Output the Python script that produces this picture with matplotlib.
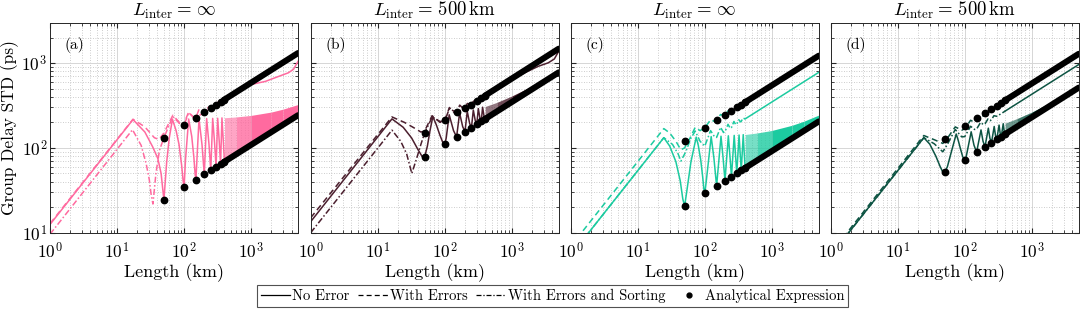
import matplotlib
matplotlib.use("Agg")
from matplotlib import pyplot as plt
from matplotlib.lines import Line2D
import numpy as np

plt.rcParams['font.family'] = 'serif'
plt.rcParams['font.serif'] = ['cmr10', 'DejaVu Serif']
plt.rcParams['mathtext.fontset'] = 'cm'
plt.rcParams['axes.formatter.use_mathtext'] = True
plt.rcParams['axes.unicode_minus'] = False

# analytical points (km) and the long tail where the dots merge into a thick line
dot_L = [50, 100, 150, 200, 250, 300, 350, 400]
tail_L = [400, 5000]
band_L = [400, 600, 1000, 2000, 3000, 5000]
band_alpha = [0.6, 0.8, 1.0, 1.0, 1.0]   # dense oscillations fill up more and more

# ---- (a) L_inter = inf
a_solid_L = [1, 17.3, 26, 34, 40.6, 45.4, 50, 55, 60, 67, 76, 84, 92, 97, 100, 105, 117, 130, 140, 146, 150,
             167, 185, 200, 217, 235, 250, 267, 285, 300, 317, 335, 350, 367, 385, 400]
a_solid_v = [12.5, 216, 154, 103, 75, 50, 24.3, 68, 130, 218, 160, 110, 62, 40, 34.4, 73, 219, 137, 77, 49, 42.1,
             221, 109, 48.6, 222, 111, 54.4, 223, 114, 59.6, 224, 116, 64.4, 226, 119, 68.8]
a_dash_L = [1, 17.3, 26, 36, 42, 50, 68, 85, 95, 117, 140, 150, 167, 190, 200, 217, 240, 250, 267, 290, 300,
            317, 340, 350, 367, 400, 5000]
a_dash_v = [12.8, 218, 177, 132, 126, 150, 243, 200, 178, 265, 225, 228, 285, 258, 263, 305, 290, 294, 325, 318,
            322, 345, 345, 348, 370, 372, 1315]
a_dd_L = [1, 17, 22.9, 27.2, 30.3, 32.1, 34.3, 38, 43, 50, 68, 85, 100, 117, 140, 150, 200, 300, 400,
          700, 1000, 1640, 2600, 3600, 4300, 5000]
a_dd_v = [9.6, 164, 107, 65, 42, 29, 21.8, 50, 94, 132, 235, 195, 186, 260, 230, 228, 263, 322, 372,
          490, 560, 610, 700, 770, 850, 1050]
a_dot_lo = [24.3, 34.4, 42.1, 48.6, 54.4, 59.6, 64.4, 68.8]
a_dot_hi = [131.5, 186, 228, 263, 294, 322, 348, 372]
a_tail_lo = [68.8, 243]
a_tail_hi = [372, 1315]
a_band_lo = [68.8, 84.3, 108.8, 153.8, 188.4, 243]
a_band_hi = [227, 232, 242, 265, 287, 325]

# ---- (b) L_inter = 500 km
b_solid_L = [1, 16.3, 24, 32, 40, 46, 50, 55, 60, 66.3, 75, 85, 95, 100, 105, 116.3, 135, 150, 166.3, 185, 200,
             216.3, 235, 250, 266.3, 285, 300, 316.3, 335, 350, 366.3, 385, 400]
b_solid_v = [13.5, 220, 175, 131, 95, 79, 78, 105, 158, 234, 186, 140, 112, 110, 131, 246, 160, 134.7, 258, 178,
             155.6, 270, 194, 174, 280, 209, 190.5, 291, 223, 205.8, 302, 236, 220]
b_dash_L = [1, 16.3, 25, 35, 44, 50, 64.6, 85, 100, 117, 140, 150, 167, 190, 200, 217, 240, 250, 267, 300, 350,
            400, 5000]
b_dash_v = [15, 232, 200, 172, 154, 158, 240, 200, 208, 300, 258, 262, 320, 290, 295, 335, 320, 325, 355, 355, 388,
            415, 1480]
b_dd_L = [1, 16.3, 22, 27, 32.2, 38, 44, 50, 65, 85, 100, 117, 150, 200, 300, 400,
          700, 1000, 1500, 2500, 3500, 4300, 5000]
b_dd_v = [10, 162, 120, 85, 50, 75, 110, 150, 232, 205, 210, 290, 262, 295, 355, 415,
          555, 640, 760, 920, 1010, 1120, 1380]
b_dot_lo = [78, 110, 134.7, 155.6, 174, 190.5, 205.8, 220]
b_dot_hi = [152, 212, 262, 295, 325, 355, 388, 415]
b_tail_lo = [220, 778]
b_tail_hi = [415, 1480]
b_band_lo = [220, 269, 348, 492, 602, 778]
b_band_hi = [308, 345, 410, 537, 640, 807]

# ---- (c) L_inter = inf
c_solid_L = [1, 24.5, 30, 37, 43, 47, 50, 55, 62, 74.5, 80, 87, 93, 97, 100, 105, 124.5, 137, 150, 174.5, 187, 200,
             224.5, 237, 250, 274.5, 287, 300, 324.5, 337, 350, 374.5, 387, 400]
c_solid_v = [5.4, 132, 105, 69, 41, 25, 20.5, 34.5, 67.7, 134, 107, 72, 45.6, 32.5, 29, 40, 136, 75, 35.5, 137.4, 78,
             41, 139, 80.5, 45.9, 140.5, 83, 50.2, 142, 85.5, 54.3, 143.4, 88, 58]
c_dash_L = [1, 24.5, 30, 37, 44, 50, 60, 72, 85, 100, 122, 140, 150, 172, 190, 200, 222, 250, 272, 300, 350, 400,
            5000]
c_dash_v = [6.9, 169, 150, 120, 95, 100, 130, 175, 160, 172, 215, 205, 212, 248, 240, 245, 272, 274, 295, 300, 324,
            346, 1223]
c_dd_L = [1, 24.5, 33, 40, 44, 52, 62, 72, 85, 100, 122, 140, 150, 172, 190, 200, 222, 240, 250, 272, 290, 300,
          322, 340, 350, 372, 400, 1000, 5000]
c_dd_v = [5.4, 132, 110, 85, 70, 90, 130, 158, 120, 105, 160, 135, 133, 175, 152, 155, 190, 170, 174, 205, 188, 191,
          215, 203, 206, 225, 220, 348, 778]
c_dot_lo = [20.5, 29, 35.5, 41, 45.9, 50.2, 54.3, 58]
c_dot_hi = [122, 173, 212, 245, 273.5, 300, 323.6, 346]
c_tail_lo = [58, 205]
c_tail_hi = [346, 1223]
c_band_lo = [58, 71, 91.7, 129.7, 158.8, 205]
c_band_hi = [144, 150, 160.7, 185, 206.5, 244]

# ---- (d) L_inter = 500 km
d_solid_L = c_solid_L
d_solid_v = [5.4, 132, 111, 80, 60, 52, 51.4, 60, 85.6, 146, 122, 95, 79, 74, 72.7, 79, 155, 108, 89, 163, 120,
             102.8, 171, 130, 115, 179, 140, 126, 186, 149, 136, 193, 158, 145.4]
d_dash_L = [1, 24.5, 35, 47, 52, 72, 90, 100, 122, 140, 150, 172, 190, 200, 222, 240, 250, 272, 300, 350, 400, 5000]
d_dash_v = [5.7, 140, 125, 113, 122, 177, 162, 168, 212, 200, 207, 245, 238, 245, 272, 268, 275, 300, 312, 340, 364,
            1287]
d_dd_L = [1, 24.5, 35, 47, 55, 72, 90, 100, 122, 140, 150, 172, 190, 200, 222, 240, 250, 272, 300, 350, 400,
          1000, 5000]
d_dd_v = [5.4, 132, 112, 90, 110, 165, 135, 136, 180, 165, 167, 200, 188, 192, 220, 210, 215, 240, 236, 254, 272,
          430, 962]
d_dot_lo = [51.4, 72.7, 89, 102.8, 115, 126, 136, 145.4]
d_dot_hi = [128.7, 182, 223, 257, 288, 315, 340.5, 364]
d_tail_lo = [145.4, 514]
d_tail_hi = [364, 1287]
d_band_lo = [145.4, 178, 229.9, 325, 398, 514]
d_band_hi = [196, 222, 265, 351, 419, 531]

labels = ["(a)", "(b)", "(c)", "(d)"]
titles = [r"$L_\mathrm{inter} =\,\infty$", r"$L_\mathrm{inter} =\,500\,\mathrm{km}$",
          r"$L_\mathrm{inter} =\,\infty$", r"$L_\mathrm{inter} =\,500\,\mathrm{km}$"]
colors = ["#ff6a9f", "#4b1f2e", "#1ccba0", "#0d5443"]

panels = [
    (a_solid_L, a_solid_v, a_dash_L, a_dash_v, a_dd_L, a_dd_v, a_dot_lo, a_dot_hi, a_tail_lo, a_tail_hi, a_band_lo, a_band_hi),
    (b_solid_L, b_solid_v, b_dash_L, b_dash_v, b_dd_L, b_dd_v, b_dot_lo, b_dot_hi, b_tail_lo, b_tail_hi, b_band_lo, b_band_hi),
    (c_solid_L, c_solid_v, c_dash_L, c_dash_v, c_dd_L, c_dd_v, c_dot_lo, c_dot_hi, c_tail_lo, c_tail_hi, c_band_lo, c_band_hi),
    (d_solid_L, d_solid_v, d_dash_L, d_dash_v, d_dd_L, d_dd_v, d_dot_lo, d_dot_hi, d_tail_lo, d_tail_hi, d_band_lo, d_band_hi),
]

fig = plt.figure(figsize=(10.8, 3.09), dpi=100)
lefts = [50, 310.7, 570.7, 830.7]

for i, p in enumerate(panels):
    sL, sv, dL, dv, ddL, ddv, lo, hi, tlo, thi, blo, bhi = p
    col = colors[i]
    ax = fig.add_axes([lefts[i] / 1080, 76.3 / 309, 248 / 1080, 210 / 309])
    ax.set_xscale("log")
    ax.set_yscale("log")

    ax.plot(sL, sv, "-", color=col, lw=1.1)
    for k in range(len(band_L) - 1):
        ax.fill_between(band_L[k:k + 2], blo[k:k + 2], bhi[k:k + 2], color=col, lw=0,
                        alpha=band_alpha[k])
    ax.plot(dL, dv, "--", color=col, lw=1.1, dashes=(4, 2.5))
    # dash-dot part up to 400 km, the dense tail shows as a continuous line
    ddL = np.array(ddL)
    ddv = np.array(ddv)
    ax.plot(ddL[ddL <= 400], ddv[ddL <= 400], "-.", color=col, lw=1.1, dashes=(4, 1.5, 1, 1.5))
    ax.plot(ddL[ddL >= 400], ddv[ddL >= 400], "-", color=col, lw=1.1)

    ax.plot(tail_L, tlo, "-", color="k", lw=4.4, solid_capstyle="round")
    ax.plot(tail_L, thi, "-", color="k", lw=4.4, solid_capstyle="round")
    ax.plot(dot_L, lo, "o", color="k", ms=4.6, ls="none")
    ax.plot(dot_L, hi, "o", color="k", ms=4.6, ls="none")

    ax.set_xlim(1, 5000)
    ax.set_ylim(10, 3000)
    ax.set_xticks([1, 10, 100, 1000])
    ax.set_yticks([10, 100, 1000])
    ax.grid(True, which="major", color="#d6d6d6", lw=0.7, ls="-")
    ax.grid(True, which="minor", color="#bcbcbc", lw=0.6, ls=(0, (1, 2)))
    ax.set_axisbelow(True)
    ax.tick_params(which="both", direction="in", top=True, right=True, labelsize=12.5, color="#262626")
    ax.tick_params(which="major", length=3.5)
    ax.tick_params(which="minor", length=2)
    ax.tick_params(axis="x", pad=6)
    ax.tick_params(axis="y", pad=2)
    for s in ax.spines.values():
        s.set_color("#262626")
        s.set_linewidth(0.7)
    if i > 0:
        ax.set_yticklabels([])
    else:
        ax.set_ylabel("Group Delay STD (ps)", fontsize=12.5, labelpad=2)
    ax.set_xlabel("Length (km)", fontsize=13, labelpad=1)
    ax.set_title(titles[i], fontsize=13.5, pad=5)
    ax.text(0.06, 0.93, labels[i], transform=ax.transAxes, fontsize=11, va="top", ha="left")

handles = [Line2D([], [], color="k", ls="-", lw=0.9),
           Line2D([], [], color="k", ls="--", lw=0.9, dashes=(4, 2.5)),
           Line2D([], [], color="k", ls="-.", lw=0.9, dashes=(4, 1.5, 1, 1.5)),
           Line2D([], [], color="k", marker="o", ms=3.5, ls="none")]
leg = fig.legend(handles, ["No Error", "With Errors", "With Errors and Sorting", "Analytical Expression"],
                 loc="center", bbox_to_anchor=(0.512, 0.042), ncol=4, fontsize=10.5, frameon=True,
                 fancybox=False, handlelength=2.0, handletextpad=0.15, columnspacing=0.6,
                 borderpad=0.25, borderaxespad=0)
leg.get_frame().set_edgecolor("#262626")
leg.get_frame().set_linewidth(0.8)

fig.savefig("out.png", dpi=100)
